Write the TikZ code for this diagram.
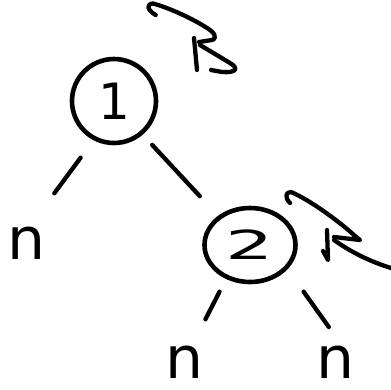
\documentclass[tikz,border=0pt]{standalone}
\usepackage{fontspec}
\setmainfont{DejaVu Sans}
\usetikzlibrary{shapes.geometric}
\begin{document}
\begin{tikzpicture}[x=1pt,y=-1pt,
  ink/.style={line width=4.3pt, line cap=round, line join=round, black},
  treenode/.style={ellipse, draw, line width=4.6pt, inner sep=0pt},
  leaf/.style={inner sep=0pt, font=\fontsize{40}{40}\selectfont},
  edge/.style={ink}]
\useasboundingbox (0,0) rectangle (391,389);
% tree nodes
\node[treenode, minimum width=84pt, minimum height=84pt, font=\fontsize{50}{50}\selectfont] (n1) at (114,101) {1};
\node[treenode, minimum width=91pt, minimum height=74pt, font=\fontsize{40}{40}\selectfont] (n2) at (250,245) {\scalebox{1.9}[1]{2}};
% leaves
\node[leaf] (c1) at (27,243) {\scalebox{1.5}[1.45]{n}};
\node[leaf] (c2) at (185,362) {\scalebox{1.5}[1.45]{n}};
\node[leaf] (c3) at (336,362) {\scalebox{1.5}[1.45]{n}};
% edges
\draw[edge, shorten <=70.6pt, shorten >=61.9pt] ([xshift=8.6pt]n1.center) -- ([xshift=-9.5pt]c1.center);
\draw[edge, shorten <=59.9pt, shorten >=66.7pt] ([xshift=-2.6pt]n1.center) -- ([xshift=-4.8pt]n2.center);
\draw[edge, shorten <=52.5pt, shorten >=48pt] ([xshift=-6.5pt]n2.center) -- ([xshift=-1.5pt]c2.center);
\draw[edge, shorten <=57.2pt, shorten >=43pt] ([xshift=20.4pt]n2.center) -- ([xshift=17.7pt]c3.center);
% rotation arrow at the top
\draw[ink] (155.7,15) .. controls (147,10) and (146,4) .. (153,3.5) .. controls (170,8) and (195,20) .. (207,28) .. controls (214,32) and (218,38) .. (212,40) -- (199,42);
\draw[ink] (194,38) -- (197,70);
\draw[ink] (200,45) -- (230,63) .. controls (240,69) and (235,73) .. (222,72) -- (211,70);
% rotation arrow at the right
\draw[ink] (290,203) .. controls (285,198) and (285,192) .. (291,192) .. controls (310,200) and (340,222) .. (355,236) -- (360,240) -- (334,237);
\draw[ink] (327,230) -- (328,260) -- (323,251);
\draw[ink] (334,240) .. controls (355,255) and (375,263) .. (391,268);
\end{tikzpicture}
\end{document}
